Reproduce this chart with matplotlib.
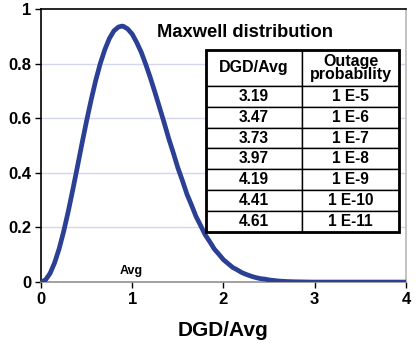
import matplotlib
matplotlib.use("Agg")
import matplotlib.pyplot as plt
from matplotlib.patches import Rectangle

plt.rcParams['font.family'] = ['Liberation Sans', 'DejaVu Sans']

# Maxwell probability density of DGD normalised to its average
dgd_ratio = [0.0, 0.05, 0.1, 0.15, 0.2, 0.25, 0.3, 0.35, 0.4, 0.45, 0.5,
             0.55, 0.6, 0.65, 0.7, 0.75, 0.8, 0.85, 0.886, 0.9, 0.95, 1.0,
             1.05, 1.1, 1.15, 1.2, 1.25, 1.3, 1.35, 1.4, 1.45, 1.5,
             1.55, 1.6, 1.65, 1.7, 1.75, 1.8, 1.85, 1.9, 1.95, 2.0,
             2.05, 2.1, 2.15, 2.2, 2.25, 2.3, 2.35, 2.4, 2.45, 2.5,
             2.6, 2.7, 2.8, 3.0, 3.5, 4.0]
density = [0.0, 0.008, 0.032, 0.071, 0.123, 0.187, 0.260, 0.340, 0.423, 0.508, 0.590,
           0.667, 0.738, 0.800, 0.851, 0.892, 0.920, 0.934, 0.937, 0.937, 0.927, 0.908,
           0.877, 0.841, 0.796, 0.747, 0.694, 0.639, 0.584, 0.526, 0.474, 0.419,
           0.372, 0.322, 0.282, 0.240, 0.207, 0.173, 0.148, 0.121, 0.102, 0.082,
           0.068, 0.054, 0.045, 0.035, 0.028, 0.022, 0.017, 0.013, 0.011, 0.008,
           0.004, 0.002, 0.001, 0.0, 0.0, 0.0]

table_header = ["DGD/Avg", "Outage\nprobability"]
table_ratio = ["3.19", "3.47", "3.73", "3.97", "4.19", "4.41", "4.61"]
table_outage = ["1 E-5", "1 E-6", "1 E-7", "1 E-8", "1 E-9", "1 E-10", "1 E-11"]

x_ticks = [0, 1, 2, 3, 4]
y_ticks = [0, 0.2, 0.4, 0.6, 0.8, 1]
y_tick_labels = ["0", "0.2", "0.4", "0.6", "0.8", "1"]

fig = plt.figure(figsize=(4.18, 3.44), dpi=100)
ax = fig.add_axes([0.098, 0.180, 0.873, 0.794])

for y in y_ticks[1:-1]:
    ax.axhline(y, color="#d4d6f0", lw=1.0, zorder=0)

ax.plot(dgd_ratio, density, color="#2b3f94", lw=3.4, solid_capstyle="round",
        solid_joinstyle="round", zorder=3)

ax.set_xlim(0, 4)
ax.set_ylim(0, 1)
ax.set_xticks(x_ticks)
ax.set_xticklabels([str(v) for v in x_ticks], fontsize=12, fontweight="bold")
ax.set_yticks(y_ticks)
ax.set_yticklabels(y_tick_labels, fontsize=12, fontweight="bold")
ax.tick_params(direction="out", length=4, width=1, pad=3)
ax.set_xlabel("DGD/Avg", fontsize=15, fontweight="bold", labelpad=10)

ax.spines["left"].set_color("black")
ax.spines["left"].set_linewidth(1.2)
ax.spines["top"].set_color("black")
ax.spines["top"].set_linewidth(1.2)
ax.spines["bottom"].set_color("#909090")
ax.spines["bottom"].set_linewidth(1.2)
ax.spines["right"].set_color("#b8b8b8")
ax.spines["right"].set_linewidth(1.2)

ax.text(0.99, 0.04, "Avg", fontsize=9, fontweight="bold", ha="center", va="center")

ax.text(0.318, 0.912, "Maxwell distribution", transform=ax.transAxes,
        fontsize=13.2, fontweight="bold", ha="left", va="center")

# Outage table
x0, x1 = 0.452, 0.981
y_top, y_bot = 0.850, 0.183
cell_text = [[r, o] for r, o in zip(table_ratio, table_outage)]
tbl = ax.table(cellText=cell_text, colLabels=table_header,
               cellLoc="center", bbox=[x0, y_bot, x1 - x0, y_top - y_bot],
               zorder=5)
tbl.auto_set_font_size(False)
n_rows = len(table_ratio)
header_h = 36.0
row_h = 21.0
total = header_h + n_rows * row_h
for (r, c), cell in tbl.get_celld().items():
    cell.set_edgecolor("black")
    cell.set_linewidth(1.0)
    cell.set_facecolor("white")
    if r == 0:
        cell.set_height((y_top - y_bot) * header_h / total)
        cell.get_text().set_fontsize(11.5)
        cell.get_text().set_linespacing(0.85)
    else:
        cell.set_height((y_top - y_bot) * row_h / total)
        cell.get_text().set_fontsize(11.2)
    cell.get_text().set_fontweight("bold")
ax.add_patch(Rectangle((x0, y_bot), x1 - x0, y_top - y_bot, transform=ax.transAxes,
                       fill=False, edgecolor="black", lw=2.0, zorder=6, clip_on=False))

fig.savefig("out.png", dpi=100)
